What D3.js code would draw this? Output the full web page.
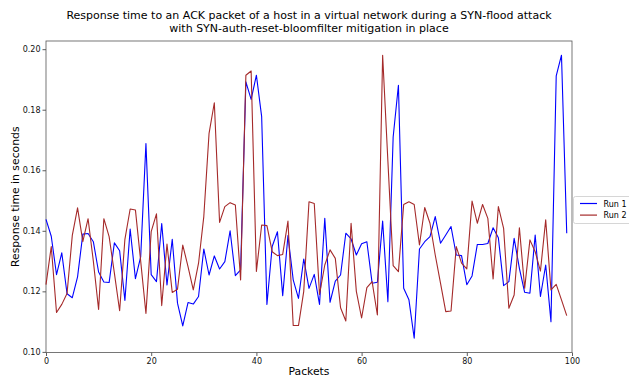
<!DOCTYPE html>
<html>
<head>
<meta charset="utf-8">
<script src="https://cdn.jsdelivr.net/npm/d3@7"></script>
<style>
  body { margin: 0; background: #fff; }
  text { font-family: "DejaVu Sans", sans-serif; }
</style>
</head>
<body>
<svg id="svg" width="629" height="379"></svg>
<script>
// chart data
const titleLines = [
    "Response time to an ACK packet of a host in a virtual network during a SYN-flood attack",
    "with SYN-auth-reset-bloomfilter mitigation in place"
];
const seriesNames = ["Run 1", "Run 2"];
const seriesColors = ["#0000ff", "#a52a2a"];
const xTicks = [0, 20, 40, 60, 80, 100];
const yTicks = [0.10, 0.12, 0.14, 0.16, 0.18, 0.20];

const run1 = [
    0.1438, 0.1382, 0.1255, 0.1327, 0.1192, 0.1179, 0.1248, 0.1389, 0.1391, 0.1364,
    0.1264, 0.1231, 0.1229, 0.1360, 0.1334, 0.1170, 0.1406, 0.1242, 0.1314, 0.1688,
    0.1255, 0.1232, 0.1424, 0.1221, 0.1372, 0.1161, 0.1086, 0.1163, 0.1158, 0.1183,
    0.1340, 0.1254, 0.1317, 0.1274, 0.1298, 0.1400, 0.1252, 0.1271, 0.1892, 0.1834,
    0.1914, 0.1777, 0.1157, 0.1348, 0.1397, 0.1186, 0.1384, 0.1238, 0.1177, 0.1307,
    0.1210, 0.1256, 0.1157, 0.1441, 0.1164, 0.1234, 0.1254, 0.1392, 0.1373, 0.1320,
    0.1357, 0.1364, 0.1227, 0.1230, 0.1432, 0.1166, 0.1710, 0.1881, 0.1210, 0.1172,
    0.1045, 0.1340, 0.1364, 0.1381, 0.1447, 0.1359, 0.1386, 0.1414, 0.1320, 0.1318,
    0.1222, 0.1251, 0.1355, 0.1355, 0.1358, 0.1410, 0.1377, 0.1219, 0.1232, 0.1375,
    0.1276, 0.1197, 0.1194, 0.1386, 0.1183, 0.1287, 0.1100, 0.1912, 0.1980, 0.1392
];

const run2 = [
    0.1222, 0.1348, 0.1130, 0.1157, 0.1193, 0.1385, 0.1476, 0.1364, 0.1440, 0.1300,
    0.1140, 0.1440, 0.1381, 0.1260, 0.1136, 0.1372, 0.1472, 0.1469, 0.1300, 0.1127,
    0.1397, 0.1456, 0.1153, 0.1356, 0.1196, 0.1207, 0.1353, 0.1282, 0.1205, 0.1293,
    0.1447, 0.1722, 0.1823, 0.1428, 0.1480, 0.1493, 0.1485, 0.1238, 0.1914, 0.1928,
    0.1266, 0.1419, 0.1417, 0.1331, 0.1318, 0.1322, 0.1432, 0.1087, 0.1087, 0.1200,
    0.1496, 0.1490, 0.1190, 0.1287, 0.1337, 0.1309, 0.1146, 0.1102, 0.1425, 0.1200,
    0.1112, 0.1212, 0.1232, 0.1122, 0.1980, 0.1630, 0.1285, 0.1265, 0.1487, 0.1496,
    0.1487, 0.1353, 0.1477, 0.1425, 0.1320, 0.1227, 0.1133, 0.1135, 0.1348, 0.1293,
    0.1274, 0.1498, 0.1425, 0.1487, 0.1441, 0.1241, 0.1480, 0.1408, 0.1144, 0.1188,
    0.1410, 0.1210, 0.1370, 0.1331, 0.1267, 0.1436, 0.1205, 0.1223, 0.1172, 0.1120
];

const allRuns = [run1, run2];

let svg = d3.select("svg");

// plot area edges
const plotLeft = 46, plotRight = 572, plotTop = 41, plotBottom = 352.5;

var xScale = d3.scaleLinear().domain([0, 100]).range([plotLeft, plotRight]),
    yScale = d3.scaleLinear().domain([0.0998, 0.2027]).range([plotBottom, plotTop]);

// title
svg.append("g")
    .selectAll("text")
    .data(titleLines)
    .enter().append("text")
    .attr("x", (plotLeft + plotRight) / 2)
    .attr("y", (d, i) => 19 + i * 12.8)
    .attr("text-anchor", "middle")
    .style("font-size", "11px")
    .style("fill", "#000")
    .text(d => d);

// axes
let xAxis = svg.append("g")
    .attr("transform", "translate(0," + plotBottom + ")")
    .call(d3.axisBottom(xScale).tickValues(xTicks).tickFormat(d3.format("d")).tickSize(3.5).tickPadding(2));

let yAxis = svg.append("g")
    .attr("transform", "translate(" + plotLeft + ",0)")
    .call(d3.axisLeft(yScale).tickValues(yTicks).tickFormat(d3.format(".2f")).tickSize(3.5).tickPadding(2));

[xAxis, yAxis].forEach(ax => {
    ax.select(".domain").remove();
    ax.selectAll(".tick line").attr("stroke", "#333").attr("stroke-width", 0.8);
    ax.selectAll(".tick text")
        .style("font-family", "'DejaVu Sans', sans-serif")
        .style("font-size", "8px")
        .style("fill", "#111");
});

// frame around the plot
svg.append("rect")
    .attr("x", plotLeft)
    .attr("y", plotTop)
    .attr("width", plotRight - plotLeft)
    .attr("height", plotBottom - plotTop)
    .style("fill", "none")
    .style("stroke", "#555")
    .style("stroke-width", "0.8");

// lines
var line = d3.line()
    .x((d, i) => xScale(i))
    .y(d => yScale(d));

allRuns.forEach((run, k) => {
    svg.append("path")
        .datum(run)
        .attr("d", line)
        .style("fill", "none")
        .style("stroke", seriesColors[k])
        .style("stroke-width", "1.1")
        .style("stroke-linejoin", "round");
});

// axis labels
svg.append("text")
    .attr("x", (plotLeft + plotRight) / 2)
    .attr("y", 375)
    .attr("text-anchor", "middle")
    .style("font-size", "10.8px")
    .text("Packets");

svg.append("text")
    .attr("transform", "translate(18.5," + (plotTop + plotBottom) / 2 + ") rotate(-90)")
    .attr("text-anchor", "middle")
    .style("font-size", "10.8px")
    .text("Response time in seconds");

// legend
let legend = svg.append("g").attr("transform", "translate(573.5,196.5)");

legend.append("rect")
    .attr("width", 70)
    .attr("height", 27)
    .attr("rx", 2)
    .style("fill", "#fff")
    .style("stroke", "#ccc")
    .style("stroke-width", "0.8");

seriesNames.forEach((name, k) => {
    let yPos = 7 + k * 11.6;
    legend.append("line")
        .attr("x1", 6.5).attr("x2", 23.5)
        .attr("y1", yPos).attr("y2", yPos)
        .style("stroke", seriesColors[k])
        .style("stroke-width", "1.2");
    legend.append("text")
        .attr("x", 30)
        .attr("y", yPos + 3)
        .style("font-size", "8px")
        .text(name);
});
</script>
</body>
</html>
